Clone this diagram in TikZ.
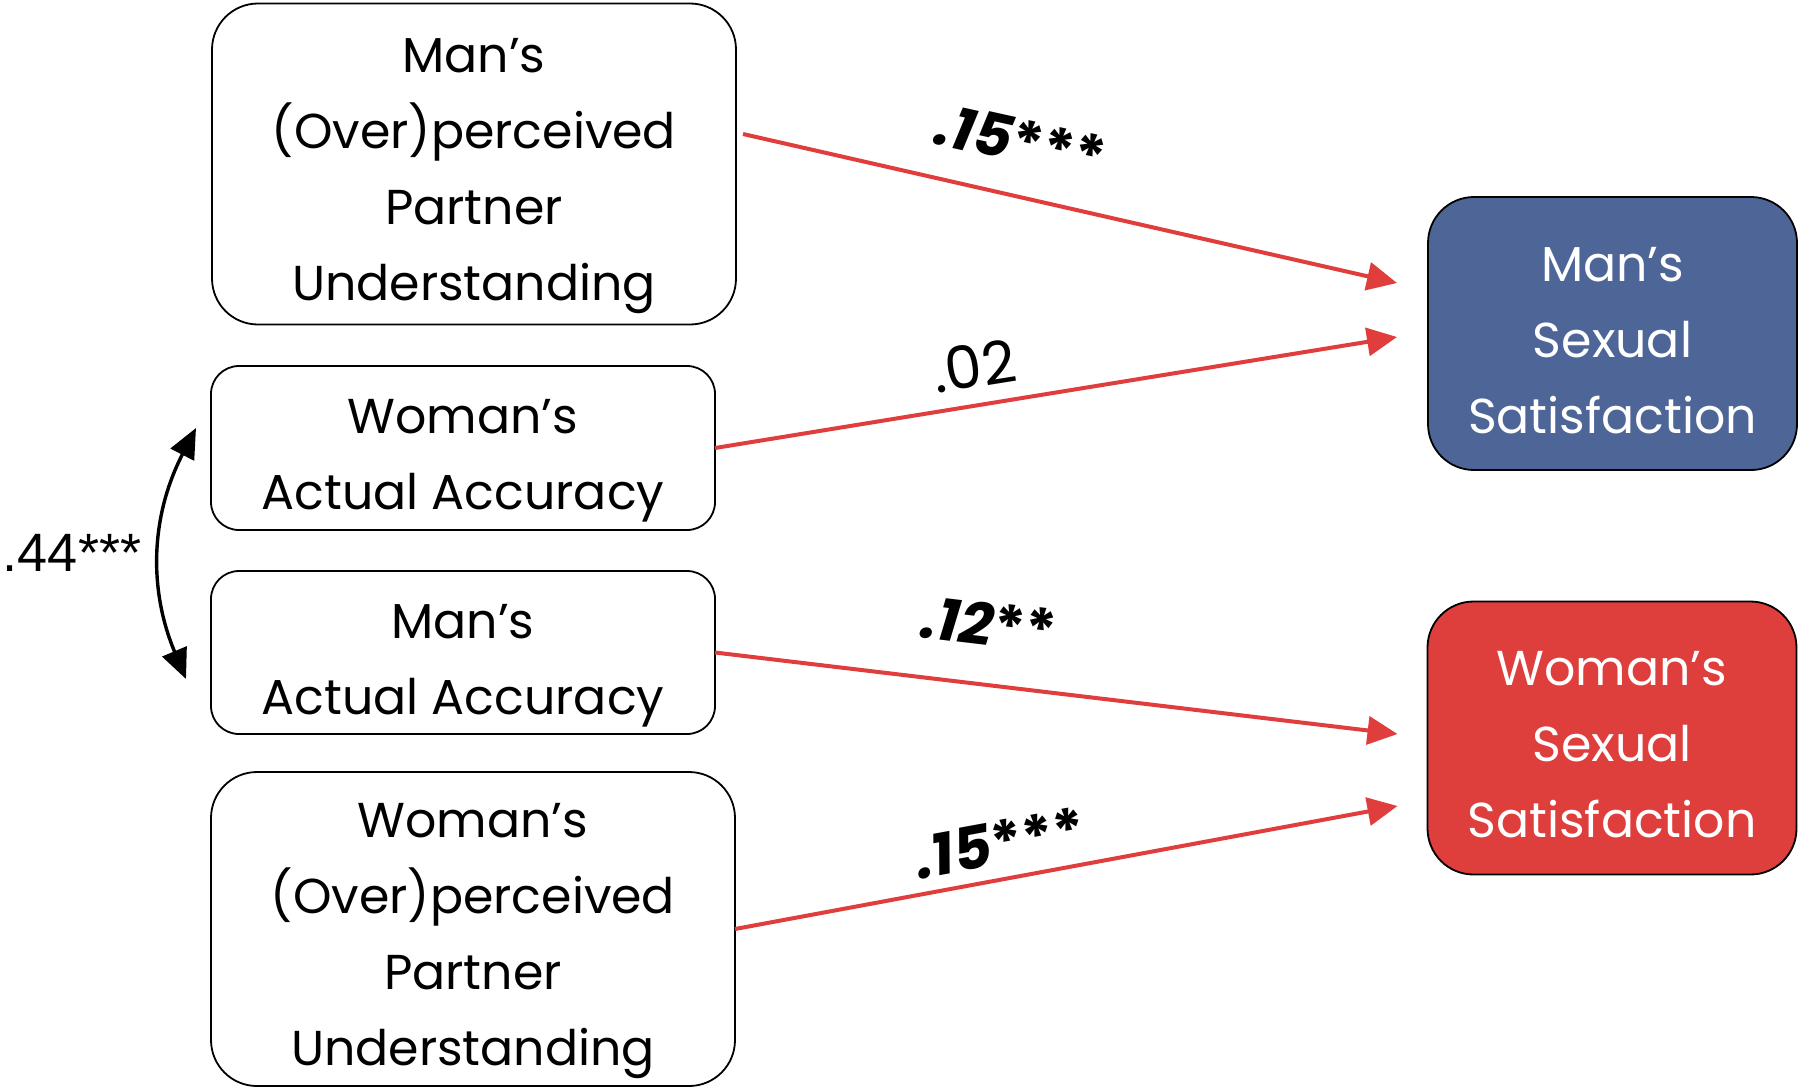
\documentclass[tikz,border=0pt]{standalone}
\usepackage{fontspec}
\setmainfont{Poppins}
\newfontfamily\arialfont{Liberation Sans}
\usetikzlibrary{arrows.meta,calc}
\definecolor{pathred}{HTML}{E03E3C}
\definecolor{outblue}{HTML}{4E6697}
\definecolor{outred}{HTML}{DE3E3C}

\begin{document}
\begin{tikzpicture}[x=1pt,y=-1pt,
  inbox/.style={draw=black, line width=1.8pt, fill=white,
    inner sep=0pt, outer sep=0pt},
  outbox/.style={draw=black, line width=1.8pt,
    inner sep=0pt, outer sep=0pt, rounded corners=46pt,
    minimum width=369pt, minimum height=273pt},
  boxtext/.style={align=center, inner sep=0pt, font=\fontsize{49}{76}\selectfont},
  path/.style={draw=pathred, line width=4pt,
    -{Triangle[length=30pt,width=28pt]}},
  corr/.style={draw=black, line width=3.4pt,
    {Triangle[length=30pt,width=26pt]}-{Triangle[length=30pt,width=26pt]}},
  coef/.style={font=\fontsize{59}{62}\selectfont, inner sep=0pt}]

\useasboundingbox (0,0) rectangle (1806,1088);

% predictor boxes
\node[inbox, rounded corners=46pt, minimum width=524pt, minimum height=321pt]
  (mover) at (474,164) {};
\node[inbox, rounded corners=28pt, minimum width=504pt, minimum height=164pt]
  (wacc) at (463,448) {};
\node[inbox, rounded corners=28pt, minimum width=504pt, minimum height=163pt]
  (macc) at (463,652.5) {};
\node[inbox, rounded corners=46pt, minimum width=524pt, minimum height=314pt]
  (wover) at (473,929) {};

\node[boxtext] (mover-t) at ([yshift=-12pt]mover.center)
  {Man’s\\(Over)perceived\\Partner\\Understanding};
\node[boxtext] (wacc-t) at ([yshift=-13pt]wacc.center) {Woman’s\\Actual Accuracy};
\node[boxtext] (macc-t) at ([yshift=-13pt]macc.center) {Man’s\\Actual Accuracy};
\node[boxtext] (wover-t) at ([yshift=-12pt]wover.center)
  {Woman’s\\(Over)perceived\\Partner\\Understanding};

% outcome boxes
\node[outbox, fill=outblue] (msat) at (1612.5,333.5) {};
\node[outbox, fill=outred] (wsat) at (1612,738) {};
\node[boxtext, text=white] (msat-t) at ([yshift=-7pt]msat.center)
  {Man’s\\Sexual\\Satisfaction};
\node[boxtext, text=white] (wsat-t) at ([yshift=-7pt]wsat.center)
  {Woman’s\\Sexual\\Satisfaction};

% paths
\draw[path] ([xshift=7pt,yshift=30pt]mover.east) -- ([xshift=-31pt,yshift=50.5pt]msat.west);
\draw[path] (wacc.east) -- ([xshift=-31pt,yshift=-3.5pt]msat.west);
\draw[path] (macc.east) -- ([xshift=-30pt,yshift=4pt]wsat.west);
\draw[path] (wover.east) -- ([xshift=-30pt,yshift=-68pt]wsat.west);

% coefficients
\node[coef, rotate=-12.5] (c1) at (1021,141) {\textbf{\textit{.15}***}};
\node[coef, rotate=9.1] (c2) at (974,366) {.02};
\node[coef, rotate=-6.8] (c3) at (989,624) {\textbf{\textit{.12}**}};
\node[coef, rotate=10.4] (c4) at (1000,843) {\textbf{\textit{.15}***}};

% correlation between the accuracy measures
\draw[corr] ([xshift=-15pt,yshift=20pt]wacc.west) to[bend right=25]
  ([xshift=-25pt,yshift=-26.5pt]macc.west);
\node[inner sep=0pt, font=\arialfont\fontsize{54}{58}\selectfont] (r) at (72,553) {.44***};

\end{tikzpicture}
\end{document}
